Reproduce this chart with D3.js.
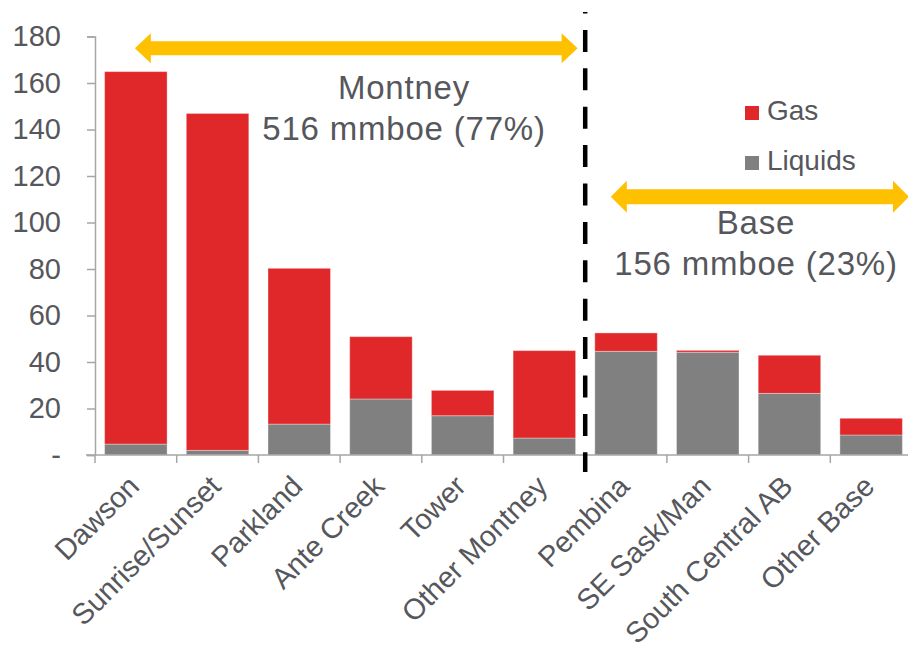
<!DOCTYPE html>
<html>
<head>
<meta charset="utf-8">
<script src="https://cdn.jsdelivr.net/npm/d3@7"></script>
<style>
  html, body { margin: 0; padding: 0; background: #fff; }
  svg { display: block; font-family: "Liberation Sans", Arial, Helvetica, sans-serif; }
</style>
</head>
<body>
<svg id="chart" width="908" height="649"></svg>
<script>
// Reserves by area (mmboe), split into liquids and gas
const categories = ["Dawson", "Sunrise/Sunset", "Parkland", "Ante Creek", "Tower",
                    "Other Montney", "Pembina", "SE Sask/Man", "South Central AB", "Other Base"];
const liquids = [4.7, 2.0, 13.3, 24.1, 16.9, 7.3, 44.6, 44.2, 26.5, 8.6];
const gas     = [160.2, 144.9, 67.0, 26.8, 10.9, 37.6, 7.9, 0.8, 16.4, 7.2];
const seriesNames = ["Liquids", "Gas"];
const yTicks = [0, 20, 40, 60, 80, 100, 120, 140, 160, 180];
const yTickLabels = ["-", "20", "40", "60", "80", "100", "120", "140", "160", "180"];
const groupLabels = [
  { title: "Montney", sub: "516 mmboe (77%)" },
  { title: "Base", sub: "156 mmboe (23%)" }
];

const colors = { Gas: "#e02729", Liquids: "#808080" };
const textColor = "#56575c";
const axisColor = "#a6a6a6";
const arrowColor = "#ffc000";

const svg = d3.select("#chart");

const x = d3.scaleBand()
  .domain(categories)
  .range([95, 912])
  .paddingInner(0.235)
  .paddingOuter(0.1175);

const y = d3.scaleLinear().domain([0, 180]).range([455, 36.5]);

// stacked layout: liquids at the base, gas on top
const rows = categories.map((c, i) => ({ cat: c, Liquids: liquids[i], Gas: gas[i] }));
const stacked = d3.stack().keys(seriesNames)(rows);

svg.append("g")
  .selectAll("g")
  .data(stacked)
  .join("g")
    .attr("fill", d => colors[d.key])
  .selectAll("rect")
  .data(d => d)
  .join("rect")
    .attr("x", d => x(d.data.cat))
    .attr("width", x.bandwidth())
    .attr("y", d => y(d[1]))
    .attr("height", d => y(d[0]) - y(d[1]))
    .attr("stroke", "rgba(255,255,255,0.35)")
    .attr("stroke-width", 1);

// y axis
const yAxis = svg.append("g")
  .attr("transform", "translate(95,0)")
  .call(d3.axisLeft(y).tickValues(yTicks).tickFormat((d, i) => yTickLabels[i]).tickSize(8).tickPadding(26));
yAxis.select(".domain").attr("stroke", axisColor).attr("stroke-width", 1.5);
yAxis.selectAll(".tick line").attr("stroke", axisColor).attr("stroke-width", 1.5);
yAxis.selectAll(".tick text")
  .attr("fill", textColor)
  .style("font-size", "29px")
  .style("font-family", "'Liberation Sans', Arial, sans-serif");

// x axis baseline with ticks at category boundaries
const xBase = svg.append("g");
xBase.append("line")
  .attr("x1", 86).attr("x2", 912)
  .attr("y1", y(0)).attr("y2", y(0))
  .attr("stroke", axisColor).attr("stroke-width", 1.5);
const step = x.step();
const boundaries = d3.range(categories.length + 1).map(i => x.range()[0] + i * step);
xBase.selectAll("line.bt")
  .data(boundaries)
  .join("line")
    .attr("class", "bt")
    .attr("x1", d => d).attr("x2", d => d)
    .attr("y1", y(0)).attr("y2", y(0) + 8)
    .attr("stroke", axisColor).attr("stroke-width", 1.5);

// rotated category labels
svg.append("g")
  .selectAll("text")
  .data(categories)
  .join("text")
    .attr("transform", d => `translate(${x(d) + x.bandwidth() / 2 + 5},${488}) rotate(-45)`)
    .attr("text-anchor", "end")
    .attr("fill", textColor)
    .style("font-size", "29px")
    .text(d => d);

// divider between Montney and Base
const divX = x.range()[0] + 6 * step;
svg.append("line")
  .attr("x1", divX).attr("x2", divX)
  .attr("y1", 12).attr("y2", 472)
  .attr("stroke", "#000")
  .attr("stroke-width", 4.5)
  .attr("stroke-dasharray", "22,16.4")
  .attr("stroke-dashoffset", 20.5);

// double-headed arrows over each group
function doubleArrow(x0, x1, yc, shaft, head, headLen) {
  const s = shaft / 2, h = head / 2;
  const pts = [
    [x0, yc], [x0 + headLen, yc - h], [x0 + headLen, yc - s],
    [x1 - headLen, yc - s], [x1 - headLen, yc - h], [x1, yc],
    [x1 - headLen, yc + h], [x1 - headLen, yc + s],
    [x0 + headLen, yc + s], [x0 + headLen, yc + h]
  ];
  svg.append("polygon")
    .attr("points", pts.map(p => p.join(",")).join(" "))
    .attr("fill", arrowColor);
}
doubleArrow(x("Dawson") + x.bandwidth() / 2 - 1, x("Other Montney") + x.bandwidth() + 2, 48.3, 14, 30, 16);
doubleArrow(x("Pembina") + 16, 909, 196.7, 15, 32, 16);

// group annotations
const ann = [
  { g: groupLabels[0], cx: 404, y1: 99, y2: 140 },
  { g: groupLabels[1], cx: 756, y1: 234, y2: 275 }
];
ann.forEach(a => {
  const t = svg.append("text")
    .attr("text-anchor", "middle")
    .attr("fill", textColor)
    .style("font-size", "33px")
    .style("letter-spacing", "0.8px");
  t.append("tspan").attr("x", a.cx).attr("y", a.y1).text(a.g.title);
  t.append("tspan").attr("x", a.cx).attr("y", a.y2).text(a.g.sub);
});

// legend
const legend = svg.append("g");
const legendItems = ["Gas", "Liquids"];
legendItems.forEach((k, i) => {
  const ly = 106 + i * 50;
  legend.append("rect")
    .attr("x", 745).attr("y", ly)
    .attr("width", 14).attr("height", 14)
    .attr("fill", colors[k]);
  legend.append("text")
    .attr("x", 767).attr("y", ly + 14)
    .attr("fill", textColor)
    .style("font-size", "28px")
    .text(k);
});
</script>
</body>
</html>
